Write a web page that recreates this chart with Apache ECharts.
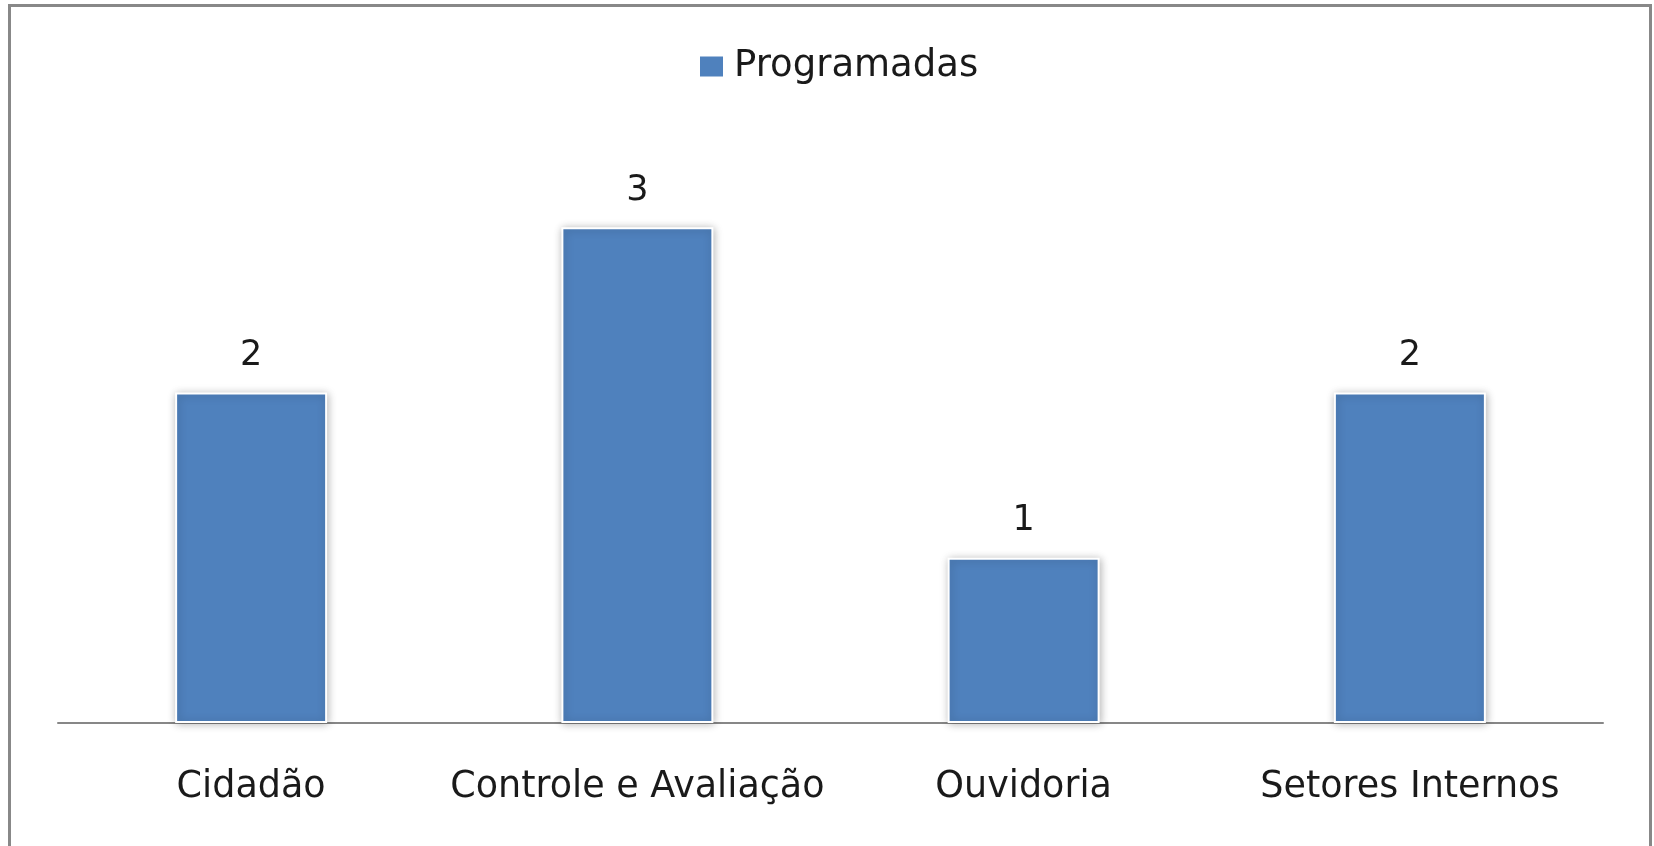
<!DOCTYPE html>
<html>
<head>
<meta charset="utf-8">
<script src="https://cdn.jsdelivr.net/npm/echarts@6/dist/echarts.min.js"></script>
<style>
  html, body { margin: 0; padding: 0; background: #fff; }
  #chart { width: 1654px; height: 846px; }
</style>
</head>
<body>
<div id="chart"></div>
<script>
// Categories and values of the bar chart
const categories = ['Cidadão', 'Controle e Avaliação', 'Ouvidoria', 'Setores Internos'];
const seriesName = 'Programadas';
const programadas = [2, 3, 1, 2];

const FONT = 'DejaVu Sans';
const chart = echarts.init(document.getElementById('chart'), null, { renderer: 'canvas' });

chart.setOption({
  backgroundColor: '#ffffff',
  animation: false,
  graphic: [{
    type: 'rect',
    shape: { x: 9.5, y: 5.5, width: 1641, height: 900 },
    style: { fill: 'none', stroke: '#888888', lineWidth: 3 },
    z: 100
  }],
  legend: {
    top: 43,
    left: 693,
    icon: 'rect',
    itemWidth: 25,
    itemHeight: 22,
    itemGap: 10,
    textStyle: { fontFamily: FONT, fontSize: 37, color: '#1a1a1a', padding: [0, 0, 0, 5] },
    data: [seriesName]
  },
  grid: { left: 58, right: 51, top: 62, bottom: 123 },
  xAxis: {
    type: 'category',
    data: categories,
    axisLine: { lineStyle: { color: '#878787', width: 2 } },
    axisTick: { show: false },
    axisLabel: { interval: 0, fontFamily: FONT, fontSize: 36.5, color: '#1a1a1a', margin: 46 }
  },
  yAxis: {
    type: 'value',
    min: 0,
    max: 4,
    show: false,
    splitLine: { show: false }
  },
  series: [{
    name: seriesName,
    type: 'bar',
    data: programadas,
    barWidth: 152,
    itemStyle: {
      color: '#4F81BD',
      borderColor: '#ffffff',
      borderWidth: 2,
      shadowBlur: 8,
      shadowColor: 'rgba(0,0,0,0.28)',
      shadowOffsetX: 1,
      shadowOffsetY: 1
    },
    label: {
      show: true,
      position: 'top',
      distance: 19,
      fontFamily: FONT,
      fontSize: 35,
      color: '#1a1a1a'
    }
  }]
});
</script>
</body>
</html>
